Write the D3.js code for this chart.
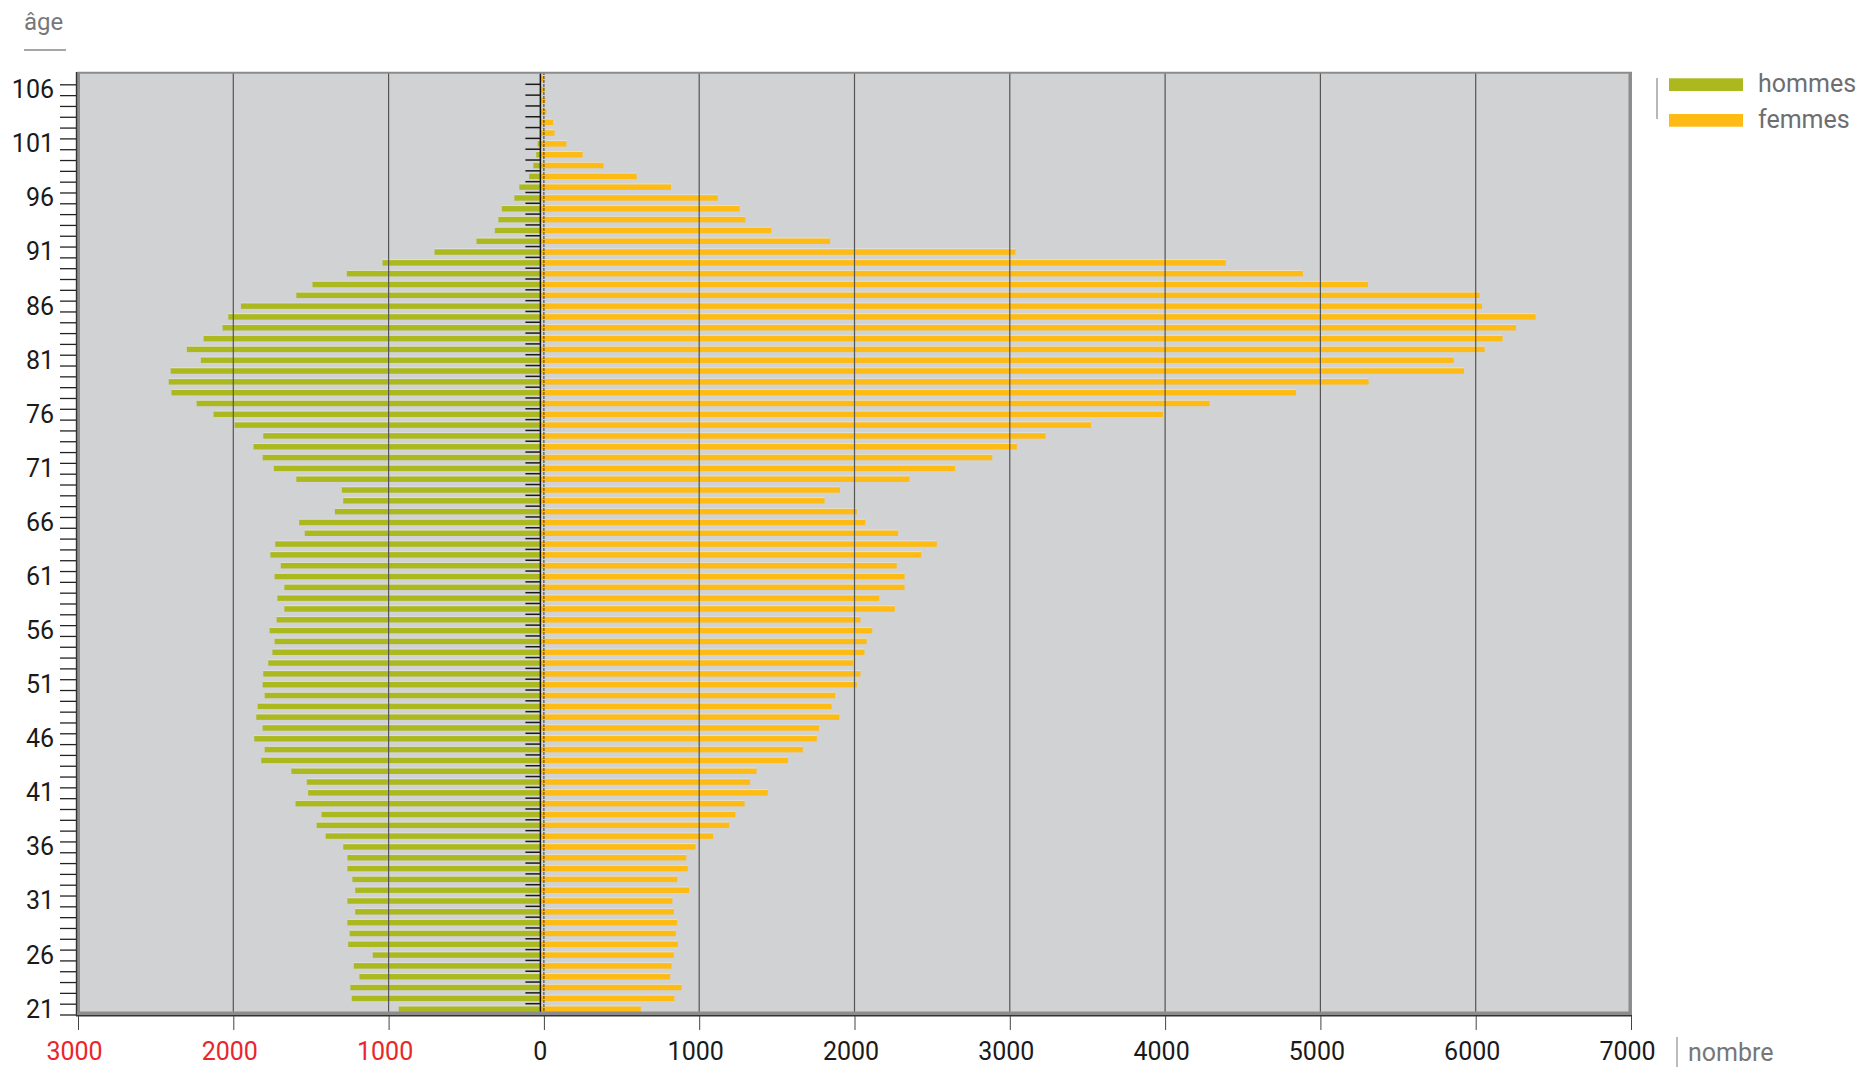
<!DOCTYPE html>
<html>
<head>
<meta charset="utf-8">
<script src="https://cdn.jsdelivr.net/npm/d3@7"></script>
<style>
  html, body { margin: 0; padding: 0; background: #fff; }
  svg { display: block; }
  text { font-family: Roboto, "Noto Sans", sans-serif; }
</style>
</head>
<body>
<svg id="chart" width="1861" height="1067"></svg>
<script>
// ---- DATA ----
const ages = d3.range(21, 108); // 21 .. 107
const hommes = [935,1237,1246,1188,1224,1102,1260,1251,1265,1215,
  1265,1215,1233,1265,1265,1292,1405,1463,1432,1599,
  1518,1527,1626,1820,1798,1865,1811,1852,1843,1798,
  1811,1807,1775,1748,1734,1766,1721,1671,1716,1671,
  1734,1694,1761,1730,1540,1576,1346,1292,1301,1594,
  1739,1811,1870,1807,1992,2127,2236,2398,2416,2403,
  2209,2299,2191,2069,2032,1951,1594,1490,1269,1039,
  704,434,316,293,271,190,158,95,68,49,
  40,18,12,6,3,2,1];
const femmes = [624,840,886,813,822,836,863,849,858,836,
  827,935,858,926,917,976,1089,1193,1233,1292,
  1441,1328,1369,1572,1667,1757,1771,1902,1852,1875,
  2015,2038,1992,2064,2078,2114,2038,2259,2159,2322,
  2322,2272,2430,2530,2281,2069,2015,1807,1906,2354,
  2647,2887,3045,3230,3523,3986,4286,4842,5310,5924,
  5858,6057,6173,6259,6386,6040,6025,5306,4887,4390,
  3036,1843,1464,1297,1260,1120,818,597,384,249,
  145,68,59,16,10,5,3];
const xTicks = [-3000,-2000,-1000,0,1000,2000,3000,4000,5000,6000,7000];
const ageLabels = [21,26,31,36,41,46,51,56,61,66,71,76,81,86,91,96,101,106];
const seriesNames = ["hommes","femmes"];

// ---- LAYOUT ----
const plot = {left: 77, right: 1632, top: 72, bottom: 1015};
const colors = {hommes: "#abb91f", femmes: "#fdbb13"};

const svg = d3.select("#chart");
const x = d3.scaleLinear().domain([-3000, 7000]).range([78, 1631]);
const y = d3.scaleLinear().domain([20.5, 107.5]).range([1014.5, 73.5]);
const base = x(0) - 3.5;  // bar base / vertical axis line
const barH = 5.6;

// plot background
svg.append("rect").attr("x", plot.left).attr("y", plot.top)
  .attr("width", plot.right - plot.left).attr("height", plot.bottom - plot.top)
  .attr("fill", "#d1d2d4");

const data = ages.map((a, i) => ({age: a, h: hommes[i], f: femmes[i]}));

// bars - hommes
const gBars = svg.append("g");
gBars.selectAll("rect.h").data(data).join("rect").attr("class", "h")
  .attr("x", d => x(-d.h))
  .attr("y", d => y(d.age) - barH / 2)
  .attr("width", d => Math.max(0, base - x(-d.h)))
  .attr("height", barH)
  .attr("fill", colors.hommes);
// bars - femmes
gBars.selectAll("rect.f").data(data).join("rect").attr("class", "f")
  .attr("x", base)
  .attr("y", d => y(d.age) - barH / 2)
  .attr("width", d => Math.max(0, x(d.f) - base))
  .attr("height", barH)
  .attr("fill", colors.femmes);
// subtle highlight on top edge of bars
gBars.selectAll("rect.hl").data(data).join("rect").attr("class", "hl")
  .attr("x", d => x(-d.h))
  .attr("y", d => y(d.age) - barH / 2 - 0.8)
  .attr("width", d => Math.max(0, x(d.f) - x(-d.h)))
  .attr("height", 1)
  .attr("fill", "#fff").attr("opacity", 0.35);

// vertical gridlines (over bars)
svg.append("g").selectAll("line").data(xTicks.filter(t => t > -3000 && t < 7000)).join("line")
  .attr("x1", d => x(d)).attr("x2", d => x(d))
  .attr("y1", plot.top).attr("y2", plot.bottom - 3)
  .attr("stroke", d => d === 0 ? "#333" : "#555")
  .attr("stroke-width", d => d === 0 ? 1 : 1.2)
  .attr("stroke-dasharray", d => d === 0 ? "3,1" : null);

// zero axis line with ticks at band edges
const edges = d3.range(20.5, 107.5, 1);
svg.append("line").attr("x1", base).attr("x2", base)
  .attr("y1", plot.top).attr("y2", plot.bottom)
  .attr("stroke", "#111").attr("stroke-width", 1.5);
svg.append("g").selectAll("line").data(edges.slice(1)).join("line")
  .attr("x1", base - 15).attr("x2", base)
  .attr("y1", d => y(d)).attr("y2", d => y(d))
  .attr("stroke", "#1a1a1a").attr("stroke-width", 1.5);

// borders
svg.append("line").attr("x1", plot.left).attr("x2", plot.right)
  .attr("y1", plot.top + 0.8).attr("y2", plot.top + 0.8)
  .attr("stroke", "#8c8c8c").attr("stroke-width", 2);
svg.append("line").attr("x1", plot.right - 1.8).attr("x2", plot.right - 1.8)
  .attr("y1", plot.top).attr("y2", plot.bottom)
  .attr("stroke", "#8c8c8c").attr("stroke-width", 3.5);
svg.append("rect").attr("x", plot.left).attr("y", plot.top)
  .attr("width", 3).attr("height", plot.bottom - plot.top).attr("fill", "#8c8c8c");
svg.append("line").attr("x1", plot.left - 0.5).attr("x2", plot.left - 0.5)
  .attr("y1", plot.top).attr("y2", plot.bottom + 1)
  .attr("stroke", "#333").attr("stroke-width", 1.4);
svg.append("rect").attr("x", plot.left).attr("y", plot.bottom - 3.5)
  .attr("width", plot.right - plot.left).attr("height", 3.5).attr("fill", "#8c8c8c");
svg.append("line").attr("x1", plot.left - 1).attr("x2", plot.right)
  .attr("y1", plot.bottom + 0.7).attr("y2", plot.bottom + 0.7)
  .attr("stroke", "#333").attr("stroke-width", 1.5);

// left axis ticks (band edges)
svg.append("g").attr("transform", `translate(${plot.left - 1},0)`)
  .call(d3.axisLeft(y).tickValues(edges).tickSize(16).tickFormat(""))
  .call(g => g.select(".domain").remove())
  .call(g => g.selectAll(".tick line").attr("stroke", "#222").attr("stroke-width", 1.3));

// left axis labels
svg.append("g").selectAll("text").data(ageLabels).join("text")
  .attr("x", 54).attr("y", d => y(d) + 8.5)
  .attr("text-anchor", "end")
  .attr("font-size", 25).attr("fill", "#1a1a1a")
  .text(d => d);

// bottom axis
const xAxis = svg.append("g").attr("transform", `translate(0,${plot.bottom + 1})`)
  .call(d3.axisBottom(x).tickValues(xTicks).tickSize(14).tickFormat(d => Math.abs(d)));
xAxis.select(".domain").remove();
xAxis.selectAll(".tick line").attr("stroke", "#444").attr("stroke-width", 1);
xAxis.selectAll(".tick text")
  .attr("y", 44).attr("dy", null).attr("dx", -4)
  .attr("font-size", 25)
  .attr("font-family", "Roboto, sans-serif")
  .attr("fill", d => d < 0 ? "#e8262b" : "#1a1a1a");

// "nombre" axis title
svg.append("line").attr("x1", 1677).attr("x2", 1677).attr("y1", 1037).attr("y2", 1067)
  .attr("stroke", "#999").attr("stroke-width", 1.3);
svg.append("text").attr("x", 1688).attr("y", 1060.5)
  .attr("font-size", 25).attr("fill", "#777").text("nombre");

// "âge" title
svg.append("text").attr("x", 24).attr("y", 30)
  .attr("font-size", 24).attr("fill", "#777").text("âge");
svg.append("line").attr("x1", 24).attr("x2", 66).attr("y1", 50).attr("y2", 50)
  .attr("stroke", "#888").attr("stroke-width", 1.5);

// legend
svg.append("line").attr("x1", 1657).attr("x2", 1657).attr("y1", 78).attr("y2", 119)
  .attr("stroke", "#a0a0a0").attr("stroke-width", 1.5);
const leg = svg.append("g").selectAll("g").data(seriesNames).join("g")
  .attr("transform", (d, i) => `translate(1669,${78.3 + i * 35.7})`);
leg.append("rect").attr("width", 74).attr("height", 12.7).attr("fill", d => colors[d]);
leg.append("text").attr("x", 89).attr("y", 14).attr("font-size", 25).attr("fill", "#6d6e71").text(d => d);
</script>
</body>
</html>
